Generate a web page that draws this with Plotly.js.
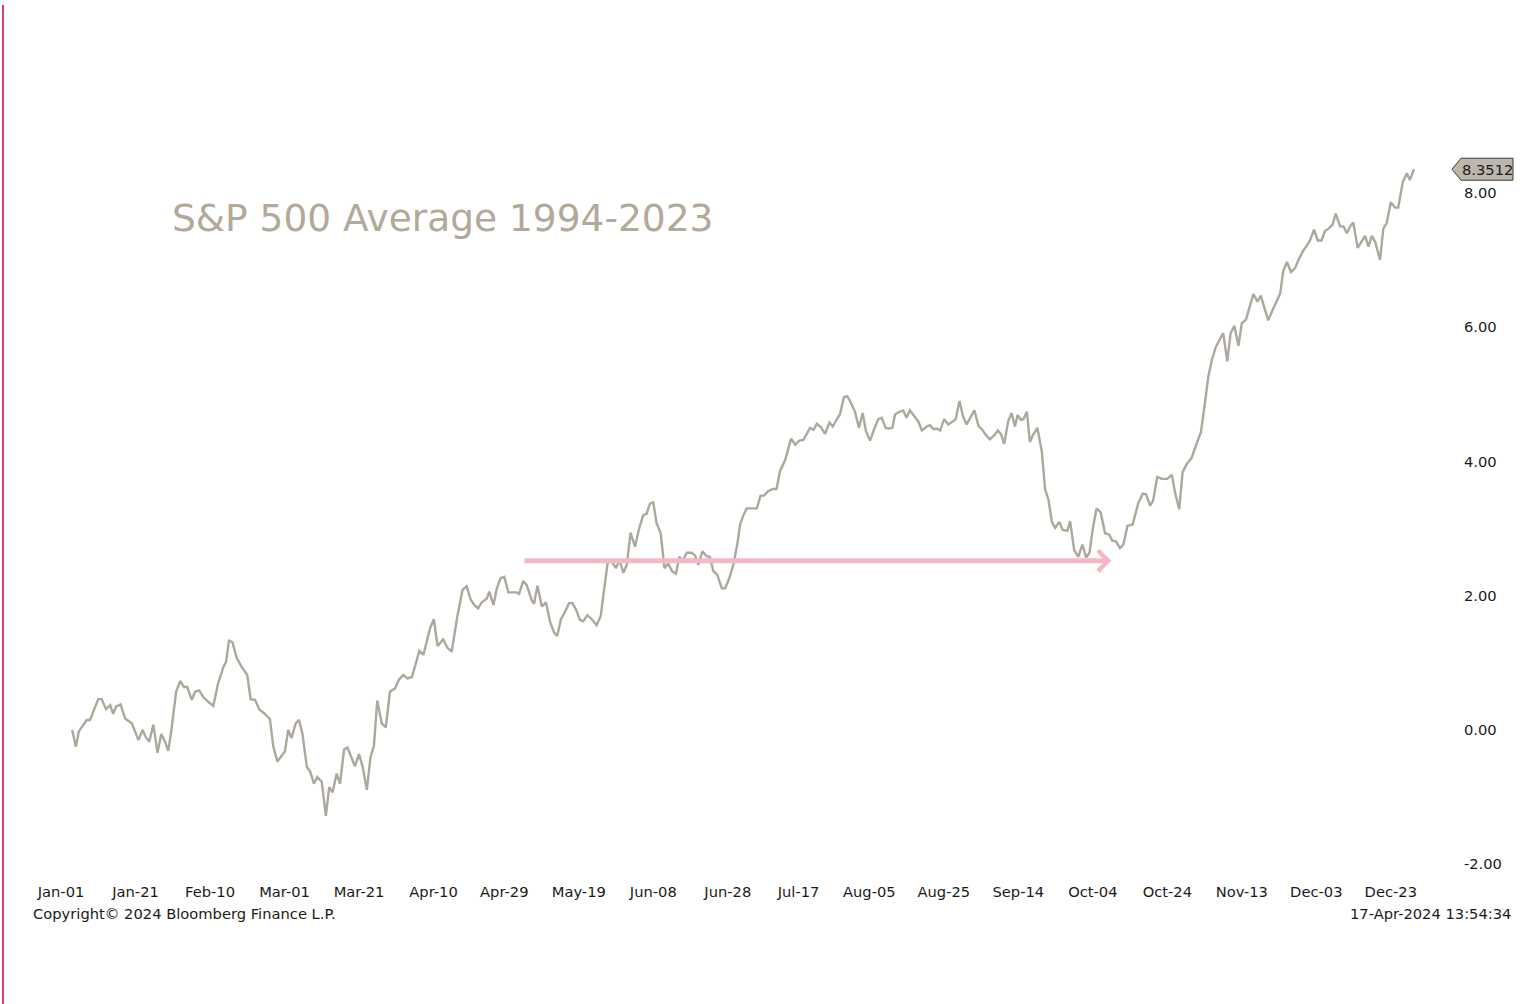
<!DOCTYPE html>
<html><head><meta charset="utf-8">
<script src="https://cdn.plot.ly/plotly-3.0.1.min.js"></script>
<style>html,body{margin:0;padding:0;background:#fff;}#chart{width:1529px;height:1004px;}</style>
</head><body><div id="chart"></div>
<script>
// Day of year (0 = Jan-01) of each point of the seasonal average path
const dayOfYear = [
3.0,4.0,4.8,5.6,6.9,7.8,9.1,10.0,10.9,12.1,13.2,14.0,14.8,16.0,17.2,19.0,20.8,21.9,22.8,23.7,
24.8,25.9,26.9,27.9,28.8,29.7,30.9,32.0,33.0,33.9,35.1,36.0,37.1,38.2,39.5,40.9,42.2,43.6,44.3,45.1,
46.0,47.2,48.5,50.0,50.9,52.1,53.2,54.5,56.1,57.0,58.1,59.1,60.1,61.0,61.9,63.0,63.9,64.8,66.0,66.9,
67.9,68.8,70.0,71.1,72.0,72.9,74.0,74.9,76.0,76.9,78.0,78.9,80.0,81.0,82.1,83.1,84.0,84.9,86.1,87.2,
88.3,89.7,90.7,91.9,93.0,94.2,95.2,96.2,97.3,98.2,99.1,100.1,101.1,102.6,103.8,104.9,106.4,107.8,108.9,110.0,
111.0,112.0,112.9,114.3,115.0,116.1,117.0,118.0,119.0,120.1,121.2,122.3,123.0,124.1,125.0,126.4,127.0,127.9,129.1,130.2,
131.3,132.4,133.2,134.2,135.3,136.4,137.3,138.3,139.3,140.2,141.3,142.5,143.8,144.9,145.8,146.8,147.8,149.0,149.9,151.0,
151.9,152.9,154.1,155.2,156.3,157.2,158.1,159.0,159.9,161.0,162.0,163.0,164.1,165.1,166.0,166.9,168.0,169.3,170.2,171.1,
172.2,173.3,174.2,175.1,176.2,177.4,178.3,179.4,180.5,181.6,182.3,183.2,184.1,185.4,186.8,187.8,188.7,189.9,191.1,192.1,
193.0,194.4,195.2,196.0,197.1,198.2,199.3,200.2,201.1,202.0,202.9,204.0,205.1,206.3,207.2,208.2,209.1,210.2,211.1,212.1,
213.2,214.2,215.2,216.1,217.2,218.3,219.4,220.3,221.4,222.3,223.2,223.9,225.1,226.1,227.0,227.9,229.3,230.2,231.1,232.4,
233.3,234.2,235.1,236.0,237.1,238.2,239.6,240.2,241.2,242.1,243.1,244.2,245.2,246.3,247.2,248.5,249.4,250.7,251.5,252.4,
253.2,254.3,255.2,256.1,256.8,257.7,258.4,259.3,260.1,261.0,262.1,263.3,264.2,265.1,266.0,266.9,268.0,268.9,270.2,270.9,
272.0,273.1,274.2,275.2,276.1,277.1,278.0,279.1,280.3,281.4,282.2,283.2,284.3,285.2,286.3,287.7,288.5,289.2,290.4,291.3,
292.4,293.2,294.3,295.5,296.2,297.0,298.2,299.1,300.2,301.1,302.2,303.5,304.9,306.0,307.1,308.0,308.9,310.0,311.1,312.0,
313.1,314.0,315.0,316.1,317.0,318.1,319.0,320.1,321.2,322.1,323.2,324.1,325.0,326.2,327.3,328.1,329.1,330.2,331.3,332.2,
333.4,334.4,335.3,336.4,337.4,338.4,339.3,340.4,341.4,342.2,343.4,344.3,345.2,346.1,346.9,348.1,349.2,350.1,351.0,351.9,
352.8,354.1,355.0,355.9,357.0,358.1,359.0,360.2,361.3,362.1,363.2
];
// Average cumulative return (%) of the S&P 500, 1994-2023
const avgReturn = [
0.00,-0.25,-0.02,0.05,0.15,0.15,0.35,0.46,0.46,0.31,0.37,0.24,0.35,0.38,0.17,0.10,-0.15,0.00,-0.11,-0.17,
0.08,-0.34,-0.06,-0.17,-0.31,0.02,0.57,0.73,0.64,0.64,0.45,0.57,0.59,0.49,0.42,0.36,0.70,0.94,1.01,1.33,
1.31,1.07,0.94,0.82,0.46,0.45,0.31,0.25,0.16,-0.25,-0.47,-0.40,-0.32,0.00,-0.12,0.10,0.15,-0.05,-0.55,-0.62,
-0.80,-0.70,-0.77,-1.28,-0.85,-0.93,-0.65,-0.80,-0.29,-0.26,-0.42,-0.54,-0.36,-0.55,-0.89,-0.40,-0.24,0.44,0.10,0.04,
0.57,0.62,0.75,0.82,0.77,0.79,0.98,1.18,1.12,1.32,1.52,1.65,1.25,1.35,1.22,1.17,1.69,2.09,2.14,1.94,
1.86,1.81,1.90,1.96,2.06,1.86,2.11,2.26,2.28,2.05,2.05,2.05,2.03,2.22,2.16,1.93,1.88,2.15,1.84,1.90,
1.61,1.45,1.40,1.65,1.76,1.89,1.89,1.79,1.64,1.62,1.71,1.65,1.56,1.70,2.09,2.51,2.51,2.41,2.53,2.34,
2.46,2.94,2.73,3.00,3.20,3.22,3.37,3.39,3.08,2.93,2.41,2.48,2.36,2.33,2.58,2.52,2.64,2.64,2.60,2.46,
2.66,2.59,2.58,2.37,2.31,2.11,2.11,2.26,2.46,2.78,3.06,3.20,3.30,3.30,3.30,3.49,3.49,3.56,3.59,3.59,
3.85,4.02,4.18,4.34,4.25,4.31,4.32,4.40,4.50,4.47,4.56,4.51,4.41,4.58,4.52,4.62,4.70,4.96,4.97,4.87,
4.73,4.50,4.72,4.45,4.31,4.48,4.63,4.65,4.50,4.49,4.50,4.70,4.74,4.76,4.65,4.76,4.66,4.59,4.46,4.52,
4.54,4.48,4.49,4.46,4.63,4.55,4.60,4.63,4.90,4.68,4.55,4.65,4.76,4.53,4.48,4.38,4.33,4.40,4.46,4.40,
4.26,4.60,4.72,4.52,4.69,4.62,4.63,4.74,4.29,4.40,4.50,4.15,3.58,3.43,3.10,3.01,3.10,2.98,2.97,3.11,
2.68,2.58,2.76,2.57,2.64,3.03,3.30,3.24,2.93,2.91,2.82,2.81,2.71,2.76,3.04,3.06,3.22,3.38,3.52,3.51,
3.34,3.42,3.77,3.74,3.74,3.74,3.80,3.53,3.29,3.84,3.96,4.05,4.27,4.43,4.87,5.26,5.50,5.70,5.82,5.91,
5.49,5.91,6.02,5.72,6.06,6.11,6.28,6.49,6.38,6.47,6.26,6.10,6.22,6.36,6.50,6.83,6.97,6.82,6.88,7.00,
7.13,7.21,7.29,7.45,7.29,7.29,7.43,7.47,7.53,7.69,7.50,7.50,7.40,7.50,7.56,7.18,7.28,7.36,7.20,7.36,
7.27,7.00,7.47,7.55,7.86,7.78,7.78,8.16,8.29,8.19,8.3512
];
const tickDays = [0,20,40,60,80,100,119,139,159,179,198,217,237,257,277,297,317,337,357];
const tickLabels = ['Jan-01','Jan-21','Feb-10','Mar-01','Mar-21','Apr-10','Apr-29','May-19','Jun-08','Jun-28',
                    'Jul-17','Aug-05','Aug-25','Sep-14','Oct-04','Oct-24','Nov-13','Dec-03','Dec-23'];
const yTicks = [-2,0,2,4,6,8];
const yTickLabels = ['-2.00','0.00','2.00','4.00','6.00','8.00'];
const chartTitle = 'S&P 500 Average 1994-2023';
const arrowLevel = 2.52;
const arrowFromDay = 124;
const arrowToDay = 282;
const copyrightText = 'Copyright\u00A9 2024 Bloomberg Finance L.P.';
const stampText = '17-Apr-2024 13:54:34';

const FONT = 'DejaVu Sans, sans-serif';
const FS = 14.7;
const xRange = [-15.57, 374.23];
const yRange = [-2.159, 9.382];
const lastVal = avgReturn[avgReturn.length - 1];
const tagY = (lastVal - yRange[0]) / (yRange[1] - yRange[0]);
const tagH = 22 / 775;
const pxX = 1 / 1452;

const trace = {
  x: dayOfYear, y: avgReturn, type: 'scatter', mode: 'lines',
  line: {color: '#aca89c', width: 2.4}, hoverinfo: 'skip'
};

const layout = {
  width: 1529, height: 1004,
  margin: {l: 3, r: 74, t: 100, b: 129},
  paper_bgcolor: '#ffffff', plot_bgcolor: '#ffffff',
  showlegend: false,
  font: {family: FONT, color: '#1a1a1a', size: FS},
  xaxis: {
    range: xRange, showgrid: false, zeroline: false, showline: false,
    tickmode: 'array', tickvals: tickDays, ticktext: tickLabels,
    ticks: 'outside', ticklen: 3, tickcolor: 'rgba(0,0,0,0)',
    tickfont: {family: FONT, size: FS, color: '#1a1a1a'}
  },
  yaxis: {
    range: yRange, side: 'right', showgrid: false, zeroline: false, showline: false,
    tickmode: 'array', tickvals: yTicks, ticktext: yTickLabels,
    ticks: 'outside', ticklen: 5, tickcolor: 'rgba(0,0,0,0)',
    tickfont: {family: FONT, size: FS, color: '#1a1a1a'}
  },
  shapes: [
    {type: 'line', xref: 'paper', yref: 'paper', x0: 0, x1: 0, y0: -0.2, y1: 1.1226,
     line: {color: '#d9426d', width: 2}},
    {type: 'path', xref: 'paper', yref: 'paper',
     path: 'M ' + (1 - 3*pxX) + ' ' + tagY +
           ' L ' + (1 + 6*pxX) + ' ' + (tagY + tagH/2) +
           ' L ' + (1 + 58*pxX) + ' ' + (tagY + tagH/2) +
           ' L ' + (1 + 58*pxX) + ' ' + (tagY - tagH/2) +
           ' L ' + (1 + 6*pxX) + ' ' + (tagY - tagH/2) + ' Z',
     fillcolor: '#bcb7aa', line: {color: '#3a3a3a', width: 1}}
  ],
  annotations: [
    {xref: 'paper', yref: 'paper', x: 167*pxX, y: 0.8477, xanchor: 'left', yanchor: 'middle',
     text: chartTitle, showarrow: false, font: {family: FONT, size: 37.5, color: '#b2a999'}},
    {xref: 'x', yref: 'y', x: arrowToDay, y: arrowLevel, ax: arrowFromDay, ay: arrowLevel,
     axref: 'x', ayref: 'y', text: '', showarrow: true, arrowhead: 4, arrowsize: 0.8,
     arrowwidth: 5, arrowcolor: '#f3b9c7'},
    {xref: 'paper', yref: 'paper', x: 1 + 32*pxX, y: tagY, xanchor: 'center', yanchor: 'middle',
     text: lastVal.toFixed(4), showarrow: false, font: {family: FONT, size: FS, color: '#1a1a1a'}},
    {xref: 'paper', yref: 'paper', x: 28*pxX, y: -0.0503, xanchor: 'left', yanchor: 'middle',
     text: copyrightText, showarrow: false, font: {family: FONT, size: FS, color: '#1a1a1a'}},
    {xref: 'paper', yref: 'paper', x: 1 + 58*pxX, y: -0.0503, xanchor: 'right', yanchor: 'middle',
     text: stampText, showarrow: false, font: {family: FONT, size: FS, color: '#1a1a1a'}}
  ]
};

Plotly.newPlot('chart', [trace], layout, {displayModeBar: false, staticPlot: true});
</script>
</body></html>
